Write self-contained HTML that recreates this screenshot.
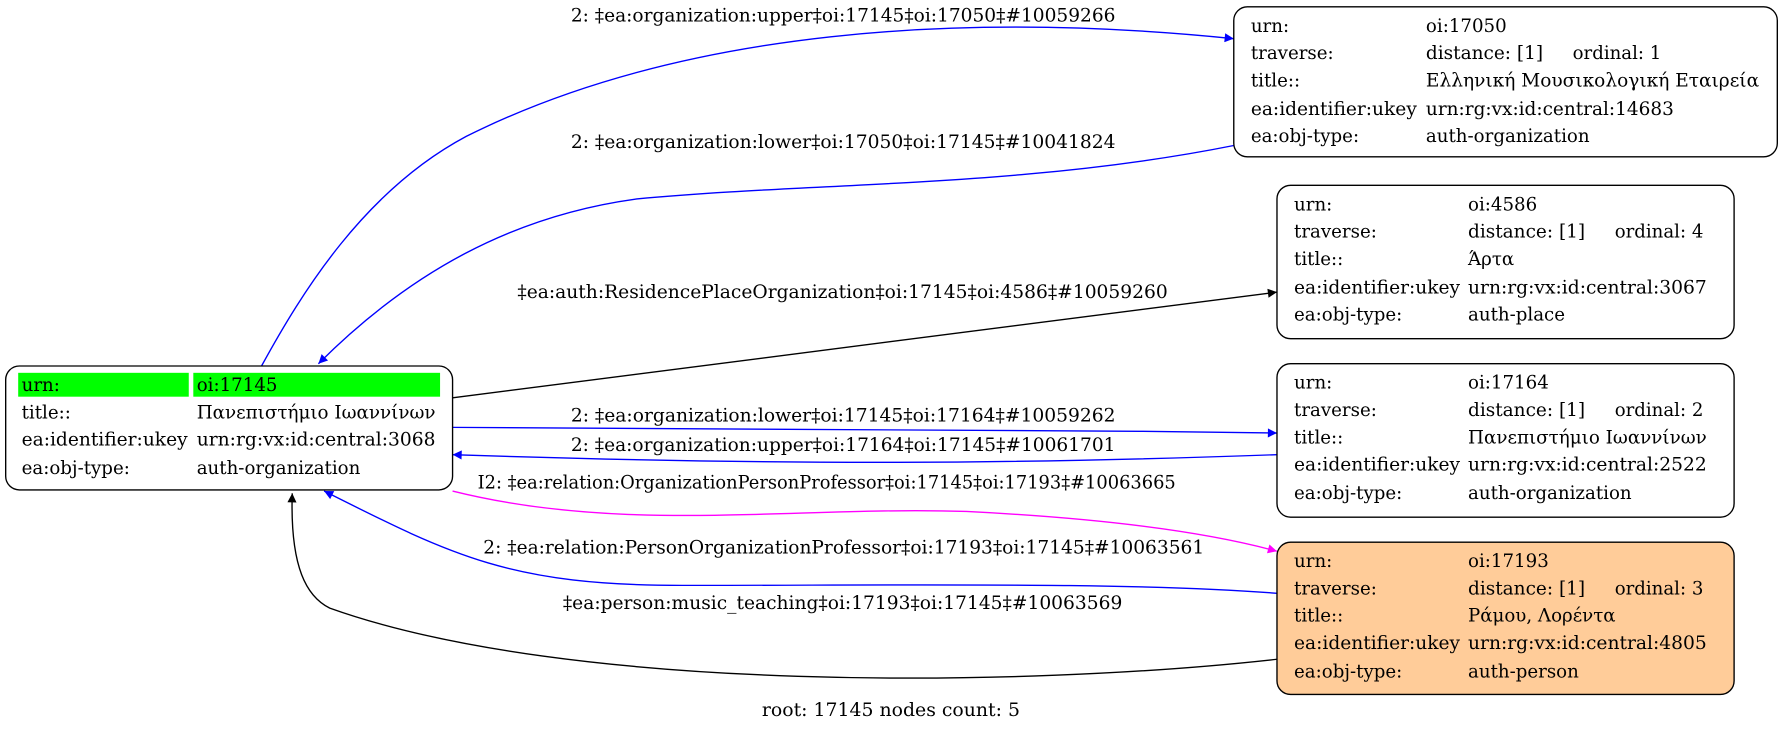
<!DOCTYPE html>
<html><head><meta charset="utf-8"><style>
html,body{margin:0;padding:0;background:#fff;}
svg{display:block;}
text{font-family:"DejaVu Serif","Liberation Serif",serif;font-size:16px;fill:#000;}
</style></head><body>
<svg width="1783" height="732" viewBox="0 0 1568 644" preserveAspectRatio="none" xmlns="http://www.w3.org/2000/svg">
<defs>
<marker id="ab" viewBox="0 0 10 10" refX="10" refY="5" markerWidth="11" markerHeight="8" orient="auto" markerUnits="userSpaceOnUse"><path d="M0,0 L10,5 L0,10 z" fill="#0000ff"/></marker>
<marker id="ak" viewBox="0 0 10 10" refX="10" refY="5" markerWidth="11" markerHeight="8" orient="auto" markerUnits="userSpaceOnUse"><path d="M0,0 L10,5 L0,10 z" fill="#000"/></marker>
<marker id="am" viewBox="0 0 10 10" refX="10" refY="5" markerWidth="11" markerHeight="8" orient="auto" markerUnits="userSpaceOnUse"><path d="M0,0 L10,5 L0,10 z" fill="#ff00ff"/></marker>
</defs>
<g fill="none" stroke-width="1.2">
<path d="M230,322 C265,258 320,168 410,120 C600,25 850,10 1085,34" stroke="#0000ff" marker-end="url(#ab)"/>
<path d="M1085,128 C900,165 720,160 560,175 C450,190 360,240 280,320" stroke="#0000ff" marker-end="url(#ab)"/>
<path d="M398,350 L1123,257" stroke="#000" marker-end="url(#ak)"/>
<path d="M398,376 C700,376 900,378 1123,381" stroke="#0000ff" marker-end="url(#ab)"/>
<path d="M1123,400 C900,408 700,410 398,400" stroke="#0000ff" marker-end="url(#ab)"/>
<path d="M398,432 C550,470 700,445 850,450 C950,455 1050,465 1123,485" stroke="#ff00ff" marker-end="url(#am)"/>
<path d="M1123,522 C1000,512 800,515 600,515 C450,515 400,490 285,432" stroke="#0000ff" marker-end="url(#ab)"/>
<path d="M1123,580 C900,605 500,610 290,535 C270,525 255,500 257,434" stroke="#000" marker-end="url(#ak)"/>
</g>
<g>
<text x="502" y="19" textLength="479" lengthAdjust="spacingAndGlyphs">2: ‡ea:organization:upper‡oi:17145‡oi:17050‡#10059266</text>
<text x="502" y="130" textLength="479" lengthAdjust="spacingAndGlyphs">2: ‡ea:organization:lower‡oi:17050‡oi:17145‡#10041824</text>
<text x="455" y="262" textLength="572" lengthAdjust="spacingAndGlyphs">‡ea:auth:ResidencePlaceOrganization‡oi:17145‡oi:4586‡#10059260</text>
<text x="502" y="371" textLength="479" lengthAdjust="spacingAndGlyphs">2: ‡ea:organization:lower‡oi:17145‡oi:17164‡#10059262</text>
<text x="502" y="397" textLength="479" lengthAdjust="spacingAndGlyphs">2: ‡ea:organization:upper‡oi:17164‡oi:17145‡#10061701</text>
<text x="420" y="430" textLength="614" lengthAdjust="spacingAndGlyphs">I2: ‡ea:relation:OrganizationPersonProfessor‡oi:17145‡oi:17193‡#10063665</text>
<text x="425" y="487" textLength="634" lengthAdjust="spacingAndGlyphs">2: ‡ea:relation:PersonOrganizationProfessor‡oi:17193‡oi:17145‡#10063561</text>
<text x="495" y="536" textLength="492" lengthAdjust="spacingAndGlyphs">‡ea:person:music_teaching‡oi:17193‡oi:17145‡#10063569</text>
<text x="670" y="630" textLength="227" lengthAdjust="spacingAndGlyphs">root: 17145 nodes count: 5</text>
</g>
<!-- root -->
<rect x="5" y="322" width="393" height="109" rx="12" fill="#fff" stroke="#000" stroke-width="1.2"/>
<rect x="16" y="328" width="150" height="21" fill="#00ff00"/>
<rect x="170" y="328" width="217" height="21" fill="#00ff00"/>
<text x="19" y="344">urn:</text><text x="173" y="344">oi:17145</text>
<text x="19" y="368">title::</text><text x="173" y="368" textLength="210" lengthAdjust="spacingAndGlyphs">Πανεπιστήμιο Ιωαννίνων</text>
<text x="19" y="392" textLength="146" lengthAdjust="spacingAndGlyphs">ea:identifier:ukey</text><text x="173" y="392" textLength="210" lengthAdjust="spacingAndGlyphs">urn:rg:vx:id:central:3068</text>
<text x="19" y="417">ea:obj-type:</text><text x="173" y="417">auth-organization</text>
<!-- node 17050 -->
<rect x="1085" y="6" width="478" height="132" rx="12" fill="#fff" stroke="#000" stroke-width="1.2"/>
<text x="1100" y="28">urn:</text><text x="1254" y="28">oi:17050</text>
<text x="1100" y="52">traverse:</text><text x="1254" y="52" textLength="103" lengthAdjust="spacingAndGlyphs">distance: [1]</text><text x="1383" y="52" textLength="78" lengthAdjust="spacingAndGlyphs">ordinal: 1</text>
<text x="1100" y="76">title::</text><text x="1254" y="76" textLength="293" lengthAdjust="spacingAndGlyphs">Ελληνική Μουσικολογική Εταιρεία</text>
<text x="1100" y="101" textLength="146" lengthAdjust="spacingAndGlyphs">ea:identifier:ukey</text><text x="1254" y="101" textLength="218" lengthAdjust="spacingAndGlyphs">urn:rg:vx:id:central:14683</text>
<text x="1100" y="125">ea:obj-type:</text><text x="1254" y="125">auth-organization</text>
<!-- node 4586 -->
<rect x="1123" y="163" width="402" height="135" rx="12" fill="#fff" stroke="#000" stroke-width="1.2"/>
<text x="1138" y="185">urn:</text><text x="1291" y="185">oi:4586</text>
<text x="1138" y="209">traverse:</text><text x="1291" y="209" textLength="103" lengthAdjust="spacingAndGlyphs">distance: [1]</text><text x="1420" y="209" textLength="78" lengthAdjust="spacingAndGlyphs">ordinal: 4</text>
<text x="1138" y="233">title::</text><text x="1291" y="233">Άρτα</text>
<text x="1138" y="258" textLength="146" lengthAdjust="spacingAndGlyphs">ea:identifier:ukey</text><text x="1291" y="258" textLength="210" lengthAdjust="spacingAndGlyphs">urn:rg:vx:id:central:3067</text>
<text x="1138" y="282">ea:obj-type:</text><text x="1291" y="282">auth-place</text>
<!-- node 17164 -->
<rect x="1123" y="320" width="402" height="135" rx="12" fill="#fff" stroke="#000" stroke-width="1.2"/>
<text x="1138" y="342">urn:</text><text x="1291" y="342">oi:17164</text>
<text x="1138" y="366">traverse:</text><text x="1291" y="366" textLength="103" lengthAdjust="spacingAndGlyphs">distance: [1]</text><text x="1420" y="366" textLength="78" lengthAdjust="spacingAndGlyphs">ordinal: 2</text>
<text x="1138" y="390">title::</text><text x="1291" y="390" textLength="210" lengthAdjust="spacingAndGlyphs">Πανεπιστήμιο Ιωαννίνων</text>
<text x="1138" y="414" textLength="146" lengthAdjust="spacingAndGlyphs">ea:identifier:ukey</text><text x="1291" y="414" textLength="210" lengthAdjust="spacingAndGlyphs">urn:rg:vx:id:central:2522</text>
<text x="1138" y="439">ea:obj-type:</text><text x="1291" y="439">auth-organization</text>
<!-- node 17193 -->
<rect x="1123" y="477" width="402" height="134" rx="12" fill="#ffcc99" stroke="#000" stroke-width="1.2"/>
<text x="1138" y="499">urn:</text><text x="1291" y="499">oi:17193</text>
<text x="1138" y="523">traverse:</text><text x="1291" y="523" textLength="103" lengthAdjust="spacingAndGlyphs">distance: [1]</text><text x="1420" y="523" textLength="78" lengthAdjust="spacingAndGlyphs">ordinal: 3</text>
<text x="1138" y="547">title::</text><text x="1291" y="547">Ράμου, Λορέντα</text>
<text x="1138" y="571" textLength="146" lengthAdjust="spacingAndGlyphs">ea:identifier:ukey</text><text x="1291" y="571" textLength="210" lengthAdjust="spacingAndGlyphs">urn:rg:vx:id:central:4805</text>
<text x="1138" y="596">ea:obj-type:</text><text x="1291" y="596">auth-person</text>
</svg>
</body></html>
